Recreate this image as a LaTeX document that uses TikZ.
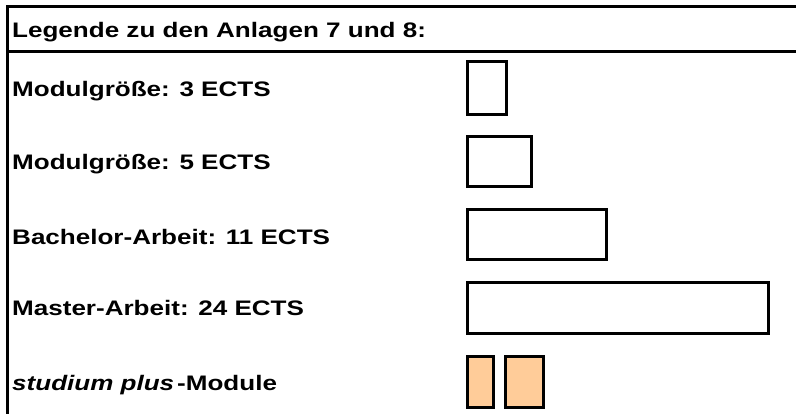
\documentclass[tikz,border=0pt]{standalone}
\usepackage{fontspec}
\setmainfont{Liberation Sans}[FakeStretch=1.24]
\definecolor{frame}{RGB}{0, 0, 0}
\definecolor{plusfill}{RGB}{255, 204, 153}
\usetikzlibrary{positioning}
\tikzset{
    legtext/.style={anchor=base west, inner sep=0pt, font=\fontsize{21}{25}\selectfont\bfseries},
    legbox/.style={rectangle, draw=frame, line width=3pt, inner sep=0pt, fill=white},
    plusbox/.style={legbox, fill=plusfill, minimum height=50pt},
    rule/.style={draw=frame, line width=3pt}
}
\begin{document}
\begin{tikzpicture}[x=1pt, y=-1pt]
    \useasboundingbox (0,0) rectangle (796,414);

    % Frame
    \coordinate (tl) at (7,7);
    \coordinate (tr) at (800,7);
    \coordinate (bl) at (7,420);
    \coordinate (ml) at (7,52);
    \coordinate (mr) at (800,52);
    \draw[rule, line cap=rect] (tr) -- (tl) -- (bl);
    \draw[rule] (ml) -- (mr);

    % Header
    \node[legtext] (head) at (12,38) {Legende zu den Anlagen 7 und 8:};

    % Rows
    \node[legtext] (mod3) at (12,97) {Modulgröße: 3 ECTS};
    \node[legtext] (mod5) at (12,170) {Modulgröße: 5 ECTS};
    \node[legtext] (bach) at (12,245) {Bachelor-Arbeit: 11 ECTS};
    \node[legtext] (mast) at (12,316) {Master-Arbeit: 24 ECTS};
    \node[legtext] (plus) at (12,390) {\textit{studium plus}\kern3pt-Module};

    % Boxes
    \node[legbox, minimum width=39pt, minimum height=53pt] (box3) at (486.5,88.5) {};
    \node[legbox, minimum width=64pt, minimum height=50pt] (box5) at (499,162) {};
    \node[legbox, minimum width=139pt, minimum height=50pt] (box11) at (536.5,235) {};
    \node[legbox, minimum width=301pt, minimum height=51pt] (box24) at (617.5,308.5) {};
    \node[plusbox, minimum width=26pt] (plusa) at (480,382) {};
    \node[plusbox, minimum width=38pt] (plusb) at (524,382) {};
\end{tikzpicture}
\end{document}
